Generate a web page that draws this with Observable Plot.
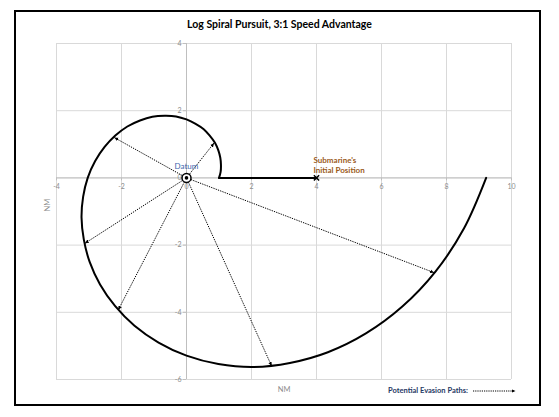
<!DOCTYPE html>
<html><head><meta charset="utf-8">
<script src="https://cdn.jsdelivr.net/npm/d3@7"></script>
<script src="https://cdn.jsdelivr.net/npm/@observablehq/plot@0.6"></script>
<style>
body{margin:0;background:#fff;}
#wrap{position:relative;width:559px;height:417px;overflow:hidden;font-family:Lato,"Open Sans",sans-serif;}
#frame{position:absolute;left:14px;top:10px;width:523px;height:392px;border:2px solid #000;}
#title{position:absolute;left:0;width:559px;top:18px;text-align:center;font-weight:bold;font-size:10.5px;color:#000;}
#legend{position:absolute;left:388px;top:386px;font-size:7.5px;font-weight:bold;color:#1f3864;white-space:nowrap;display:flex;align-items:center;}
#legend svg{margin-left:4px;}
#chart{position:absolute;left:0;top:0;}
svg marker path{stroke-dasharray:none;}
</style></head>
<body>
<div id="wrap">
  <div id="frame"></div>
  <div id="chart"></div>
  <div id="title">Log Spiral Pursuit, 3:1 Speed Advantage</div>
  <div id="legend">Potential Evasion Paths:<svg width="46" height="8"><defs><marker id="lh" viewBox="-5 -5 10 10" markerWidth="5" markerHeight="5" orient="auto" markerUnits="userSpaceOnUse"><path d="M-4,-3L3,0L-4,3Z" fill="#000"/></marker></defs><line x1="1" y1="4" x2="42" y2="4" stroke="#000" stroke-width="1" stroke-dasharray="1.2,1" marker-end="url(#lh)"/></svg></div>
</div>
<script>
// Axis ticks
const xTicks = [-4, -2, 0, 2, 4, 6, 8, 10];
const yTicks = [-6, -4, -2, 0, 2, 4];

// Pursuer's straight leg from the submarine's initial position toward the datum
const legX = [4, 1];
const legY = [0, 0];

// Log spiral (NM)
const spiralX = [1.00, 1.05, 1.06, 1.04, 0.98, 0.88, 0.72, 0.53, 0.28, 0.00, -0.32, -0.67, -1.05, -1.43, -1.82, -2.19, -2.52, -2.81, -3.04, -3.18, -3.23, -3.16, -2.98, -2.66, -2.20, -1.60, -0.86, 0.00, 0.98, 2.05, 3.18, 4.35, 5.52, 6.64, 7.66, 8.54, 9.22];
const spiralY = [0.00, 0.18, 0.39, 0.60, 0.82, 1.04, 1.25, 1.45, 1.61, 1.74, 1.83, 1.85, 1.82, 1.71, 1.53, 1.26, 0.92, 0.50, 0.00, -0.56, -1.18, -1.83, -2.50, -3.17, -3.81, -4.40, -4.90, -5.29, -5.54, -5.63, -5.51, -5.19, -4.63, -3.83, -2.79, -1.50, 0.00];

// Potential evasion path end points
const evasionX = [0.85, -2.22, -3.13, -2.10, 2.62, 7.62];
const evasionY = [1.04, 1.20, -1.95, -3.93, -5.60, -2.82];

// Labelled points
const labelNames = ["Datum", "Submarine's\nInitial Position"];
const labelX = [0, 4];
const labelY = [0, 0];

const leg = legX.map((x, i) => ({x, y: legY[i]}));
const spiral = spiralX.map((x, i) => ({x, y: spiralY[i]}));
const evasion = evasionX.map((x, i) => ({x, y: evasionY[i]}));

const grid = "#d9d9d9", axisCol = "#bfbfbf", tickText = "#8c8c8c";

const chart = Plot.plot({
  width: 559,
  height: 417,
  marginLeft: 56,
  marginRight: 48,
  marginTop: 43,
  marginBottom: 38,
  style: {background: "transparent", fontFamily: "Lato, 'Open Sans', sans-serif", overflow: "visible"},
  x: {domain: [-4, 10], axis: null},
  y: {domain: [-6, 4], axis: null},
  marks: [
    Plot.ruleX(xTicks, {x: d => d, stroke: grid, strokeWidth: 1}),
    Plot.ruleY(yTicks, {y: d => d, stroke: grid, strokeWidth: 1}),
    Plot.ruleX([0], {x: d => d, stroke: axisCol, strokeWidth: 1}),
    Plot.ruleY([0], {y: d => d, stroke: axisCol, strokeWidth: 1}),
    Plot.ruleX(xTicks, {x: d => d, y1: 0, y2: 0, insetBottom: -3, stroke: axisCol}),
    Plot.ruleY(yTicks, {y: d => d, x1: 0, x2: 0, insetLeft: -3, stroke: axisCol}),
    Plot.text(xTicks, {x: d => d, y: 0, text: d => String(d), dy: 9, fill: tickText, fontSize: 7}),
    Plot.text(yTicks, {x: 0, y: d => d, text: d => String(d), dx: -5, textAnchor: "end", fill: tickText, fontSize: 7}),
    Plot.text(["NM"], {frameAnchor: "bottom", dy: 12, text: d => d, fill: tickText, fontSize: 7.5}),
    Plot.text(["NM"], {frameAnchor: "left", dx: -9, rotate: -90, text: d => d, fill: tickText, fontSize: 7.5}),
    Plot.link(evasion, {x1: 0, y1: 0, x2: "x", y2: "y", stroke: "#000", strokeWidth: 1, strokeDasharray: "1.3,1.1", markerEnd: "arrow"}),
    Plot.line(leg, {x: "x", y: "y", stroke: "#000", strokeWidth: 2}),
    Plot.line(spiral, {x: "x", y: "y", stroke: "#000", strokeWidth: 2, curve: "catmull-rom"}),
    Plot.dot([0], {x: 0, y: 0, r: 4.5, fill: "#fff", stroke: "#000", strokeWidth: 1.5}),
    Plot.dot([0], {x: 0, y: 0, r: 1.8, fill: "#000", stroke: "none"}),
    Plot.dot([0], {x: labelX[1], y: labelY[1], symbol: "times", r: 2.5, stroke: "#000", strokeWidth: 1.5}),
    Plot.text([labelNames[0]], {x: labelX[0], y: labelY[0], text: d => d, dy: -11, fill: "#3b64ad", fontSize: 8}),
    Plot.text([labelNames[1]], {x: labelX[1], y: labelY[1], text: d => d, textAnchor: "start", lineAnchor: "bottom", dx: -3, dy: -5, lineHeight: 1.25, fill: "#9a5a1a", fontSize: 8, fontWeight: "bold"})
  ]
});
// Make the evasion-path arrowheads small solid triangles like the original
d3.select(chart).selectAll("marker")
  .attr("markerWidth", 8)
  .attr("markerHeight", 8)
  .attr("fill", "#000")
  .attr("stroke", "none")
  .selectAll("path")
  .attr("d", "M-6,-2.6L0,0L-6,2.6Z")
  .attr("fill", "#000")
  .attr("stroke", "none");
document.getElementById("chart").appendChild(chart);
</script>
</body></html>
